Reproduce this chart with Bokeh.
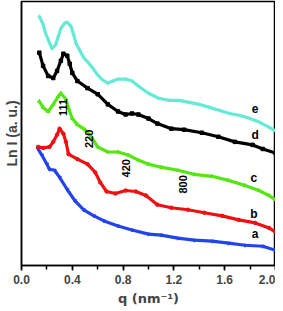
import math
from bokeh.plotting import figure
from bokeh.models import Range1d, SingleIntervalTicker, FixedTicker
from bokeh.core.properties import value
from bokeh.embed import file_html
from bokeh.resources import INLINE

# ---- data (q in nm^-1, intensity in arbitrary offset units) ----
q_e = [0.14,0.17,0.19,0.22,0.24,0.27,0.29,0.31,0.34,0.36,0.39,0.41,0.43,0.46,0.49,0.52,0.56,0.60,0.64,0.68,0.72,0.76,0.82,0.87,0.92,1.00,1.08,1.16,1.24,1.32,1.40,1.48,1.56,1.64,1.72,1.80,1.88,1.94,2.0]
i_e = [246,238,229,220,214,218,226,234,239,240,236,228,219,212,205,201,195,188,183,180,182,184,184,182,177,170,165,163,163,161,159,156,153,150,148,145,141,137,133]

q_d = [0.14,0.17,0.21,0.25,0.28,0.31,0.33,0.36,0.38,0.40,0.44,0.52,0.60,0.68,0.76,0.82,0.87,0.92,1.00,1.07,1.18,1.28,1.42,1.55,1.68,1.82,1.90,2.0]
i_d = [210,197,187,185,192,202,209,207,199,190,182,175,169,159,152,149,150,149,145,140,135,134,131,127,122,119,115,111]

q_c = [0.14,0.17,0.21,0.25,0.29,0.31,0.35,0.37,0.40,0.44,0.50,0.55,0.60,0.68,0.76,0.84,0.92,1.00,1.10,1.23,1.36,1.50,1.63,1.76,1.87,1.95,2.0]
i_c = [162,156,152,159,167,170,164,155,145,139,134,127,117,112,112,109,104,100,97,94,90,88,84,79,74,69,65]

q_b = [0.13,0.17,0.22,0.25,0.28,0.30,0.33,0.35,0.37,0.44,0.52,0.58,0.62,0.67,0.74,0.82,0.90,0.98,1.07,1.18,1.31,1.44,1.58,1.71,1.84,1.95,2.0]
i_b = [117,116,117,122,129,135,130,122,110,105,100,92,82,73,71,74,73,69,60,57,55,52,49,45,42,37,33]

q_a = [0.13,0.16,0.20,0.22,0.26,0.30,0.36,0.42,0.49,0.57,0.65,0.76,0.87,1.00,1.10,1.23,1.36,1.50,1.63,1.76,1.90,2.0]
i_a = [115,109,100,95,94,87,75,64,55,49,44,39,35,31,30,27,25,24,22,20,19,15]

x_ticks = [0.0, 0.4, 0.8, 1.2, 1.6, 2.0]

peak_labels = ["111", "220", "420", "800"]
peak_q = [0.33, 0.53, 0.82, 1.275]
peak_i = [156, 125, 96, 80]

curve_labels = ["e", "d", "c", "b", "a"]
curve_label_q = [1.84, 1.84, 1.83, 1.83, 1.84]
curve_label_i = [155, 129, 86, 51, 31]

x_title = "q (nm\u207b\u00b9)"
y_title = "Ln I (a. u.)"

FONT = "Liberation Sans"

p = figure(width=275, height=308, output_backend="svg", toolbar_location=None,
           x_range=Range1d(0, 2.0), y_range=Range1d(0, 260.5),
           min_border_left=17, min_border_right=0, min_border_top=1, min_border_bottom=0)
p.background_fill_color = "white"
p.border_fill_color = "white"
p.outline_line_color = "black"
p.outline_line_width = 1.5
p.xgrid.visible = False
p.ygrid.visible = False

series = [
    (q_a, i_a, "#2244EE", "inverted_triangle"),
    (q_b, i_b, "#EE1111", "circle"),
    (q_c, i_c, "#55E611", "triangle"),
    (q_d, i_d, "#000000", "square"),
    (q_e, i_e, "#66EAD6", "cross"),
]
for qs, ys, col, mk in series:
    p.line(qs, ys, line_color=col, line_width=3.2, line_join="round")
    p.scatter(qs, ys, marker=mk, size=3.5, fill_color=col, line_color=col, line_width=1)

p.text(x=peak_q, y=peak_i, text=peak_labels, angle=math.pi / 2,
       text_align="center", text_baseline="middle",
       text_font=value(FONT), text_font_style="bold", text_font_size="11px", text_color="black")
p.text(x=curve_label_q, y=curve_label_i, text=curve_labels,
       text_align="center", text_baseline="middle",
       text_font=value(FONT), text_font_style="bold", text_font_size="12px", text_color="black")

xa = p.xaxis[0]
xa.ticker = SingleIntervalTicker(interval=0.4, num_minor_ticks=2)
xa.major_label_overrides = {t: f"{t:.1f}" for t in x_ticks}
xa.axis_line_color = "black"
xa.axis_line_width = 1.5
xa.major_tick_out = 5
xa.major_tick_in = 0
xa.minor_tick_out = 4
xa.minor_tick_in = 0
xa.major_tick_line_width = 1.5
xa.minor_tick_line_width = 1.5
xa.major_label_text_font = FONT
xa.major_label_text_font_style = "bold"
xa.major_label_text_font_size = "12px"
xa.major_label_standoff = 4
xa.axis_label = x_title
xa.axis_label_text_font = "DejaVu Sans"
xa.axis_label_text_font_style = "bold"
xa.axis_label_text_font_size = "13px"
xa.axis_label_standoff = 4

ya = p.yaxis[0]
ya.ticker = FixedTicker(ticks=[])
ya.axis_line_color = "black"
ya.axis_line_width = 1.5
ya.axis_label = y_title
ya.axis_label_text_font = FONT
ya.axis_label_text_font_style = "bold"
ya.axis_label_text_font_size = "14px"
ya.axis_label_standoff = 2

open("out.html", "w").write(file_html(p, INLINE))
